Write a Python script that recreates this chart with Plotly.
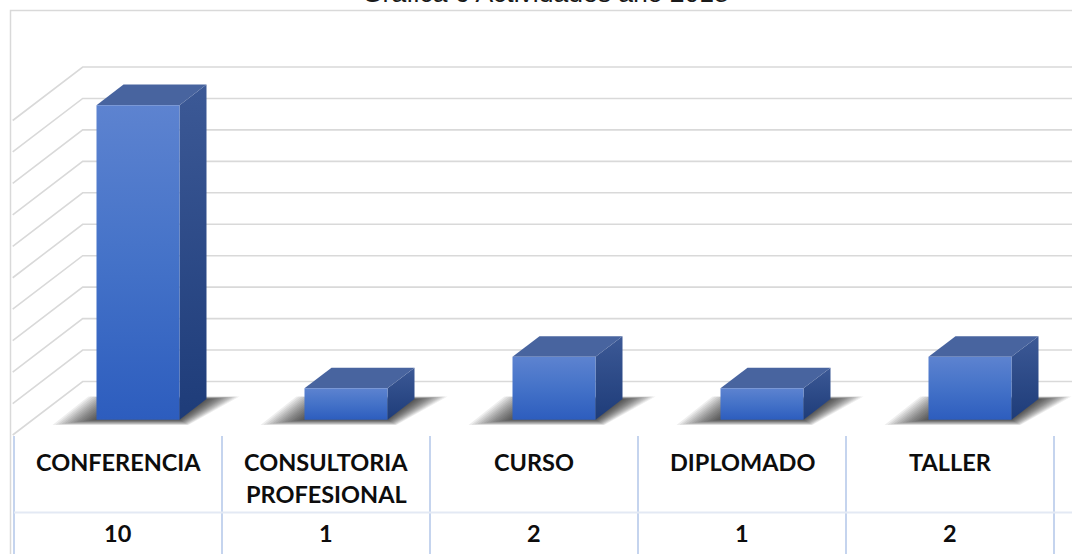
import plotly.graph_objects as go

# ---------------- data ----------------
categories = ["CONFERENCIA", "CONSULTORIA\nPROFESIONAL", "CURSO", "DIPLOMADO", "TALLER"]
values = [10, 1, 2, 1, 2]
gridline_values = list(range(0, 11))
title_text = "Gráfica 6 Actividades año 2018"

# ---------------- geometry helpers (pixel -> data) ----------------
W, H = 1072, 554
X0_PX, X_UNIT = 118.0, 208.0      # category 0 centre, px per category
Y0_PX, Y_UNIT = 435.0, 31.45      # floor (front plane), px per value unit


def px2x(p):
    return (p - X0_PX) / X_UNIT


def px2y(p):
    return (Y0_PX - p) / Y_UNIT


DX = 70.0 / X_UNIT      # full depth offset (x, data units)
DY = 53.5 / Y_UNIT      # full depth offset (y, data units)
F1, F2 = 20.0 / 70.0, 47.0 / 70.0   # bar front/back depth fractions
HW = 41.5 / X_UNIT      # half bar width
XL = px2x(12.7)         # left wall front edge
XR = px2x(W + 10)

fig = go.Figure()

# ---------------- walls / gridlines ----------------
gx, gy = [], []
for v in gridline_values:
    gx += [XL, XL + DX, XR, None]
    gy += [v, v + DY, v + DY, None]
fig.add_trace(go.Scatter(x=gx, y=gy, mode="lines",
                         line=dict(color="#D9D9D9", width=1.6),
                         hoverinfo="skip"))

# ---------------- soft shadows on the floor ----------------
shadow_steps = list(range(44, 0, -3))
for i, v in enumerate(values):
    ax, ay = F1 * DX, F1 * DY
    bx, by = F2 * DX, F2 * DY
    for e in shadow_steps:
        ex = e / X_UNIT
        ey = e * 0.12 / Y_UNIT
        sx = [i - HW + ax - ex, i + HW + ax + ex * 0.2, i + HW + bx + ex * 0.75,
              i - HW + bx - ex * 0.8, i - HW + ax - ex]
        sy = [ay - ey, ay - ey, by + ey * 0.5, by + ey * 0.5, ay - ey]
        fig.add_trace(go.Scatter(x=sx, y=sy, mode="lines", fill="toself",
                                 fillcolor="rgba(0,0,0,0.065)",
                                 line=dict(width=0), hoverinfo="skip"))

# ---------------- bars (front, top, side faces) ----------------
for i, v in enumerate(values):
    ax, ay = F1 * DX, F1 * DY
    bx, by = F2 * DX, F2 * DY
    l, r = i - HW, i + HW
    # side face
    fig.add_trace(go.Scatter(
        x=[r + ax, r + bx, r + bx, r + ax, r + ax],
        y=[ay, by, v + by, v + ay, ay],
        mode="lines", fill="toself", line=dict(width=0),
        fillgradient=dict(type="vertical",
                          colorscale=[[0, "#1E3C79"], [1, "#3C5996"]]),
        hoverinfo="skip"))
    # top face
    fig.add_trace(go.Scatter(
        x=[l + ax, r + ax, r + bx, l + bx, l + ax],
        y=[v + ay, v + ay, v + by, v + by, v + ay],
        mode="lines", fill="toself", line=dict(width=0),
        fillcolor="#48649F", hoverinfo="skip"))
    # front face
    fig.add_trace(go.Scatter(
        x=[l + ax, r + ax, r + ax, l + ax, l + ax],
        y=[ay, ay, v + ay, v + ay, ay],
        mode="lines", fill="toself", line=dict(width=0),
        fillgradient=dict(type="vertical",
                          colorscale=[[0, "#2D5DBE"], [0.5, "#4472C8"], [1, "#5D83D0"]]),
        hovertemplate=categories[i].replace("\n", " ") + ": " + str(v) + "<extra></extra>"))

# ---------------- chart border ----------------
shapes = [dict(type="rect", xref="x", yref="y",
               x0=px2x(10.5), x1=px2x(W + 20), y0=px2y(H + 20), y1=px2y(10.5),
               line=dict(color="#D9D9D9", width=1.5), layer="below")]

# ---------------- data table ----------------
n = len(categories)
for k in range(n + 1):
    shapes.append(dict(type="line", xref="x", yref="y",
                       x0=k - 0.5, x1=k - 0.5, y0=px2y(436), y1=px2y(H),
                       line=dict(color="#C5D4EE", width=2)))
shapes.append(dict(type="line", xref="x", yref="y",
                   x0=-0.5, x1=XR, y0=px2y(512.5), y1=px2y(512.5),
                   line=dict(color="#E3E9F4", width=2)))

annotations = []
tfont = dict(family="Lato", size=23.5, color="#0D0D0D", weight="bold")
line_centres = [462, 494]
for i, (c, v) in enumerate(zip(categories, values)):
    for j, part in enumerate(c.split("\n")):
        annotations.append(dict(x=i, y=px2y(line_centres[j]), xref="x", yref="y",
                                text=part, showarrow=False, font=tfont,
                                xanchor="center", yanchor="middle"))
    annotations.append(dict(x=i, y=px2y(533), xref="x", yref="y",
                            text=str(v), showarrow=False, font=tfont,
                            xanchor="center", yanchor="middle"))

annotations.append(dict(x=px2x(545), y=px2y(10.5), xref="x", yref="y",
                        text=title_text, showarrow=False,
                        font=dict(family="Liberation Sans", size=26.5, color="#1A1A1A"),
                        xanchor="center", yanchor="bottom"))

fig.update_layout(
    width=W, height=H,
    margin=dict(l=0, r=0, t=0, b=0),
    paper_bgcolor="white", plot_bgcolor="white",
    showlegend=False,
    xaxis=dict(range=[px2x(0), px2x(W)], visible=False, fixedrange=True),
    yaxis=dict(range=[px2y(H), px2y(0)], visible=False, fixedrange=True),
    shapes=shapes,
    annotations=annotations,
)

fig.write_html("out.html",
               config={"displayModeBar": False},
               post_script="document.body.style.margin='0';document.body.style.overflow='hidden';")
